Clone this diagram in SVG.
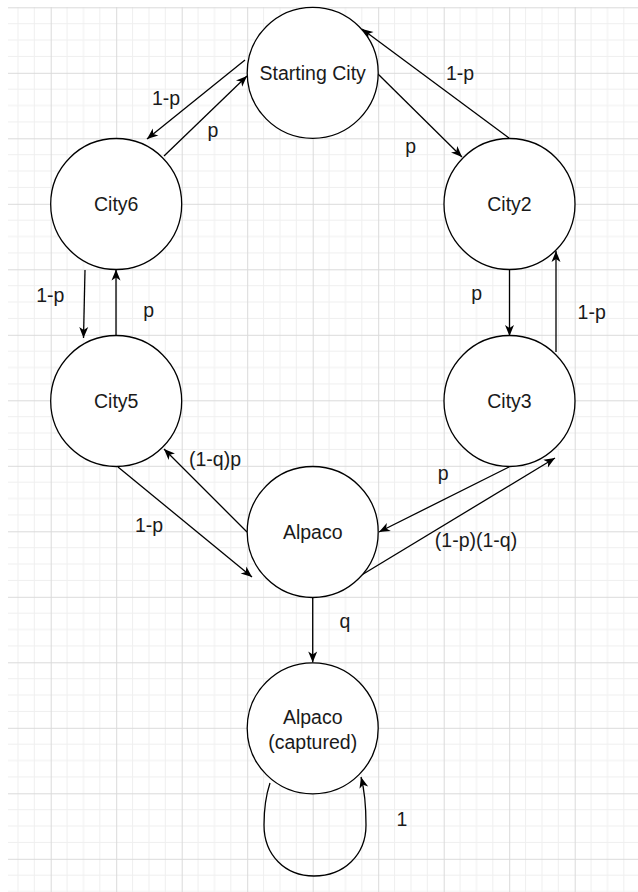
<svg xmlns="http://www.w3.org/2000/svg" width="638" height="892" viewBox="0 0 638 892">
  <defs>
    <pattern id="grid" patternUnits="userSpaceOnUse" x="50.7" y="7.3" width="65.5" height="65.5">
      <g stroke="#efefef" stroke-width="1">
        <line x1="16.375" y1="0" x2="16.375" y2="65.5"/>
        <line x1="32.75" y1="0" x2="32.75" y2="65.5"/>
        <line x1="49.125" y1="0" x2="49.125" y2="65.5"/>
        <line x1="0" y1="16.375" x2="65.5" y2="16.375"/>
        <line x1="0" y1="32.75" x2="65.5" y2="32.75"/>
        <line x1="0" y1="49.125" x2="65.5" y2="49.125"/>
      </g>
      <g stroke="#dadada" stroke-width="1">
        <line x1="0.5" y1="0" x2="0.5" y2="65.5"/>
        <line x1="0" y1="0.5" x2="65.5" y2="0.5"/>
      </g>
    </pattern>
    <marker id="arr" markerUnits="userSpaceOnUse" markerWidth="12" markerHeight="10" refX="11" refY="4.5" orient="auto" overflow="visible">
      <path d="M0,0 L11,4.5 L0,9 L3,4.5 Z" fill="#000"/>
    </marker>
  </defs>
  <style>
    .node circle { fill: #ffffff; stroke: #000000; stroke-width: 1.3; }
    .node text, .lbl text { font-family: "Liberation Sans", Arial, sans-serif; font-size: 19.5px; fill: #1a1a1a; text-anchor: middle; }
    .edges path { fill: none; stroke: #000000; stroke-width: 1.3; marker-end: url(#arr); }
  </style>
  <rect x="0" y="0" width="638" height="892" fill="#ffffff"/>
  <rect x="8" y="7" width="630" height="885" fill="url(#grid)"/>

  <g id="connectors" class="edges">
    <path d="M245,60 L147,139"/>
    <path d="M164,156 L247,76"/>
    <path d="M378,74 L462,157"/>
    <path d="M509,138 L362,29"/>
    <path d="M85,270 L83.5,338"/>
    <path d="M116,335.5 L116,269.5"/>
    <path d="M247,532 L164,449"/>
    <path d="M118,467 L252,577"/>
    <path d="M509.5,269.5 L509.5,336"/>
    <path d="M556,352 L556,251"/>
    <path d="M509,467 L379,532"/>
    <path d="M360,576 L555,458"/>
    <path d="M312.7,597 L312.7,662.5"/>
    <path d="M270,783 C265,798 264,812 264,825 C264,855 285,876 314,876 C344,876 366,855 366,825 C366,808 365,792 361,777"/>
  </g>

  <g id="node-start" class="node">
    <circle cx="312.7" cy="72.8" r="65.5"/>
    <text x="312.7" y="79.5">Starting City</text>
  </g>
  <g id="node-city6" class="node">
    <circle cx="116.2" cy="204" r="65.5"/>
    <text x="116.2" y="211">City6</text>
  </g>
  <g id="node-city2" class="node">
    <circle cx="509.5" cy="204" r="65.5"/>
    <text x="509.5" y="211">City2</text>
  </g>
  <g id="node-city5" class="node">
    <circle cx="116.2" cy="401" r="65.5"/>
    <text x="116.2" y="408">City5</text>
  </g>
  <g id="node-city3" class="node">
    <circle cx="509.5" cy="401" r="65.5"/>
    <text x="509.5" y="408">City3</text>
  </g>
  <g id="node-alpaco" class="node">
    <circle cx="312.7" cy="532" r="65.5"/>
    <text x="312.7" y="539">Alpaco</text>
  </g>
  <g id="node-captured" class="node">
    <circle cx="312.7" cy="728.3" r="65.5"/>
    <text x="312.7" y="723.5">Alpaco</text>
    <text x="312.7" y="748.5">(captured)</text>
  </g>

  <g id="labels" class="lbl">
    <text x="166" y="105">1-p</text>
    <text x="213" y="137">p</text>
    <text x="410.7" y="152.5">p</text>
    <text x="460" y="80">1-p</text>
    <text x="50.3" y="302">1-p</text>
    <text x="148.7" y="317">p</text>
    <text x="215" y="465.5">(1-q)p</text>
    <text x="149" y="532">1-p</text>
    <text x="476.7" y="300">p</text>
    <text x="591.7" y="319">1-p</text>
    <text x="443.3" y="480">p</text>
    <text x="476" y="547">(1-p)(1-q)</text>
    <text x="345" y="628">q</text>
    <text x="402" y="825.5">1</text>
  </g>
</svg>
